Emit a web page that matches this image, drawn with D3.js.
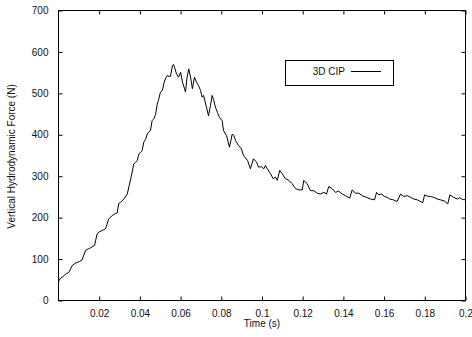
<!DOCTYPE html>
<html>
<head>
<meta charset="utf-8">
<script src="https://cdn.jsdelivr.net/npm/d3@7"></script>
<style>
  html, body { margin: 0; padding: 0; background: #fff; }
  svg { display: block; }
  text { font-family: "Liberation Sans", Arial, sans-serif; fill: #111; }
</style>
</head>
<body>
<svg id="chart" width="472" height="337"></svg>
<script>
// ---- data ----
const timeValues = [0,0.001,0.002,0.0034,0.0051,0.0067,0.0079,0.0092,0.0103,0.0116,0.0133,0.0147,0.0157,0.0177,0.0190,0.0201,0.0215,0.0231,0.0247,0.0264,0.0280,0.0288,0.0296,0.0305,0.0318,0.0327,0.0338,0.0346,0.0357,0.0370,0.0378,0.0387,0.0395,0.0403,0.0411,0.0419,0.0428,0.0436,0.0445,0.0452,0.0460,0.0469,0.0477,0.0485,0.0491,0.0501,0.0511,0.0517,0.0526,0.0534,0.0543,0.0550,0.0560,0.0565,0.0570,0.0580,0.0590,0.0600,0.0609,0.0619,0.0624,0.0631,0.0640,0.0649,0.0658,0.0668,0.0678,0.0688,0.0698,0.0706,0.0713,0.0725,0.0737,0.0747,0.0755,0.0762,0.0771,0.0781,0.0791,0.0804,0.0811,0.0826,0.0840,0.0854,0.0862,0.0870,0.0885,0.0899,0.0909,0.0929,0.0943,0.0958,0.0973,0.0983,0.0998,0.1009,0.1017,0.1026,0.1042,0.1055,0.1066,0.1075,0.1087,0.1099,0.1115,0.1132,0.1148,0.1165,0.1181,0.1198,0.1205,0.1222,0.1238,0.1255,0.1271,0.1287,0.1304,0.1317,0.1328,0.1345,0.1361,0.1377,0.1394,0.1410,0.1431,0.1443,0.1459,0.1476,0.1492,0.1514,0.1533,0.1553,0.1563,0.1574,0.1586,0.1602,0.1615,0.1628,0.1645,0.1664,0.1681,0.1697,0.1714,0.1730,0.1746,0.1763,0.1790,0.1799,0.1812,0.1828,0.1844,0.1861,0.1877,0.1897,0.1913,0.1923,0.1942,0.1959,0.1972,0.1984,0.2];
const forceValues = [46,54,57,63,68,84,89,92,94,98,121,125,127,133,161,166,169,173,197,205,210,211,234,237,243,249,257,275,298,330,333,338,354,357,362,382,389,402,408,410,434,439,449,473,483,503,507,523,536,543,541,541,567,570,563,547,539,551,527,512,503,536,559,539,511,539,527,519,507,491,495,471,446,471,495,485,467,454,442,434,410,398,370,402,398,386,374,366,350,338,318,342,334,322,323,318,326,318,306,294,298,290,314,306,294,290,282,270,267,267,290,282,265,265,259,257,261,257,275,270,261,264,257,253,247,267,259,259,253,249,245,243,261,255,257,251,249,245,243,239,257,251,253,249,245,243,236,255,252,251,249,245,243,240,233,255,249,245,248,244,243];
const xTickValues = [0.02,0.04,0.06,0.08,0.1,0.12,0.14,0.16,0.18,0.2];
const xTickLabels = ["0.02","0.04","0.06","0.08","0.1","0.12","0.14","0.16","0.18","0.2"];
const yTickValues = [0,100,200,300,400,500,600,700];
const yTickLabels = ["0","100","200","300","400","500","600","700"];
const seriesName = "3D CIP";
const xTitle = "Time (s)";
const yTitle = "Vertical Hydrodynamic Force (N)";

// ---- layout ----
const L = 58.5, R = 465.5, T = 10.5, B = 300.5;
const svg = d3.select("#chart");
const x = d3.scaleLinear().domain([0, 0.2]).range([L, R]);
const y = d3.scaleLinear().domain([0, 700]).range([B, T]);
const tickLen = 4;

const data = timeValues.map((t, i) => ({ t, f: forceValues[i] }));

const fmtX = (d) => xTickLabels[xTickValues.indexOf(d)];
const fmtY = (d) => yTickLabels[yTickValues.indexOf(d)];

const gx = svg.append("g").attr("transform", `translate(0,${B})`)
  .call(d3.axisBottom(x).tickValues(xTickValues).tickFormat(fmtX).tickSizeInner(-tickLen).tickSizeOuter(0).tickPadding(9));
const gxt = svg.append("g").attr("transform", `translate(0,${T})`)
  .call(d3.axisTop(x).tickValues(xTickValues).tickFormat("").tickSizeInner(-tickLen).tickSizeOuter(0));
const gy = svg.append("g").attr("transform", `translate(${L},0)`)
  .call(d3.axisLeft(y).tickValues(yTickValues).tickFormat(fmtY).tickSizeInner(-tickLen).tickSizeOuter(0).tickPadding(10));
const gyr = svg.append("g").attr("transform", `translate(${R},0)`)
  .call(d3.axisRight(y).tickValues(yTickValues).tickFormat("").tickSizeInner(-tickLen).tickSizeOuter(0));

[gx, gxt, gy, gyr].forEach(g => {
  g.select(".domain").remove();
  g.selectAll(".tick line").attr("stroke", "#000").attr("stroke-width", 1);
  g.selectAll("text").attr("font-size", 10).attr("fill", "#111")
    .attr("font-family", '"Liberation Sans", Arial, sans-serif');
});

// frame
svg.append("rect").attr("x", L).attr("y", T).attr("width", R - L).attr("height", B - T)
  .attr("fill", "none").attr("stroke", "#000").attr("stroke-width", 1);

// series line
const line = d3.line().x(d => x(d.t)).y(d => y(d.f));
svg.append("path").datum(data).attr("d", line)
  .attr("fill", "none").attr("stroke", "#000").attr("stroke-width", 1)
  .attr("stroke-linejoin", "round");

// titles
svg.append("text").attr("x", (L + R) / 2).attr("y", 327).attr("text-anchor", "middle")
  .attr("font-size", 10).text(xTitle);
svg.append("text").attr("transform", `translate(14.5,${(T + B) / 2 + 1}) rotate(-90)`)
  .attr("text-anchor", "middle").attr("font-size", 10).text(yTitle);

// legend
svg.append("rect").attr("x", 285.5).attr("y", 60.5).attr("width", 108).attr("height", 25)
  .attr("fill", "#fff").attr("stroke", "#000").attr("stroke-width", 1);
svg.append("text").attr("x", 345).attr("y", 74.5).attr("text-anchor", "end")
  .attr("font-size", 10).text(seriesName);
svg.append("line").attr("x1", 351).attr("x2", 381).attr("y1", 71.5).attr("y2", 71.5)
  .attr("stroke", "#000").attr("stroke-width", 1);
</script>
</body>
</html>
